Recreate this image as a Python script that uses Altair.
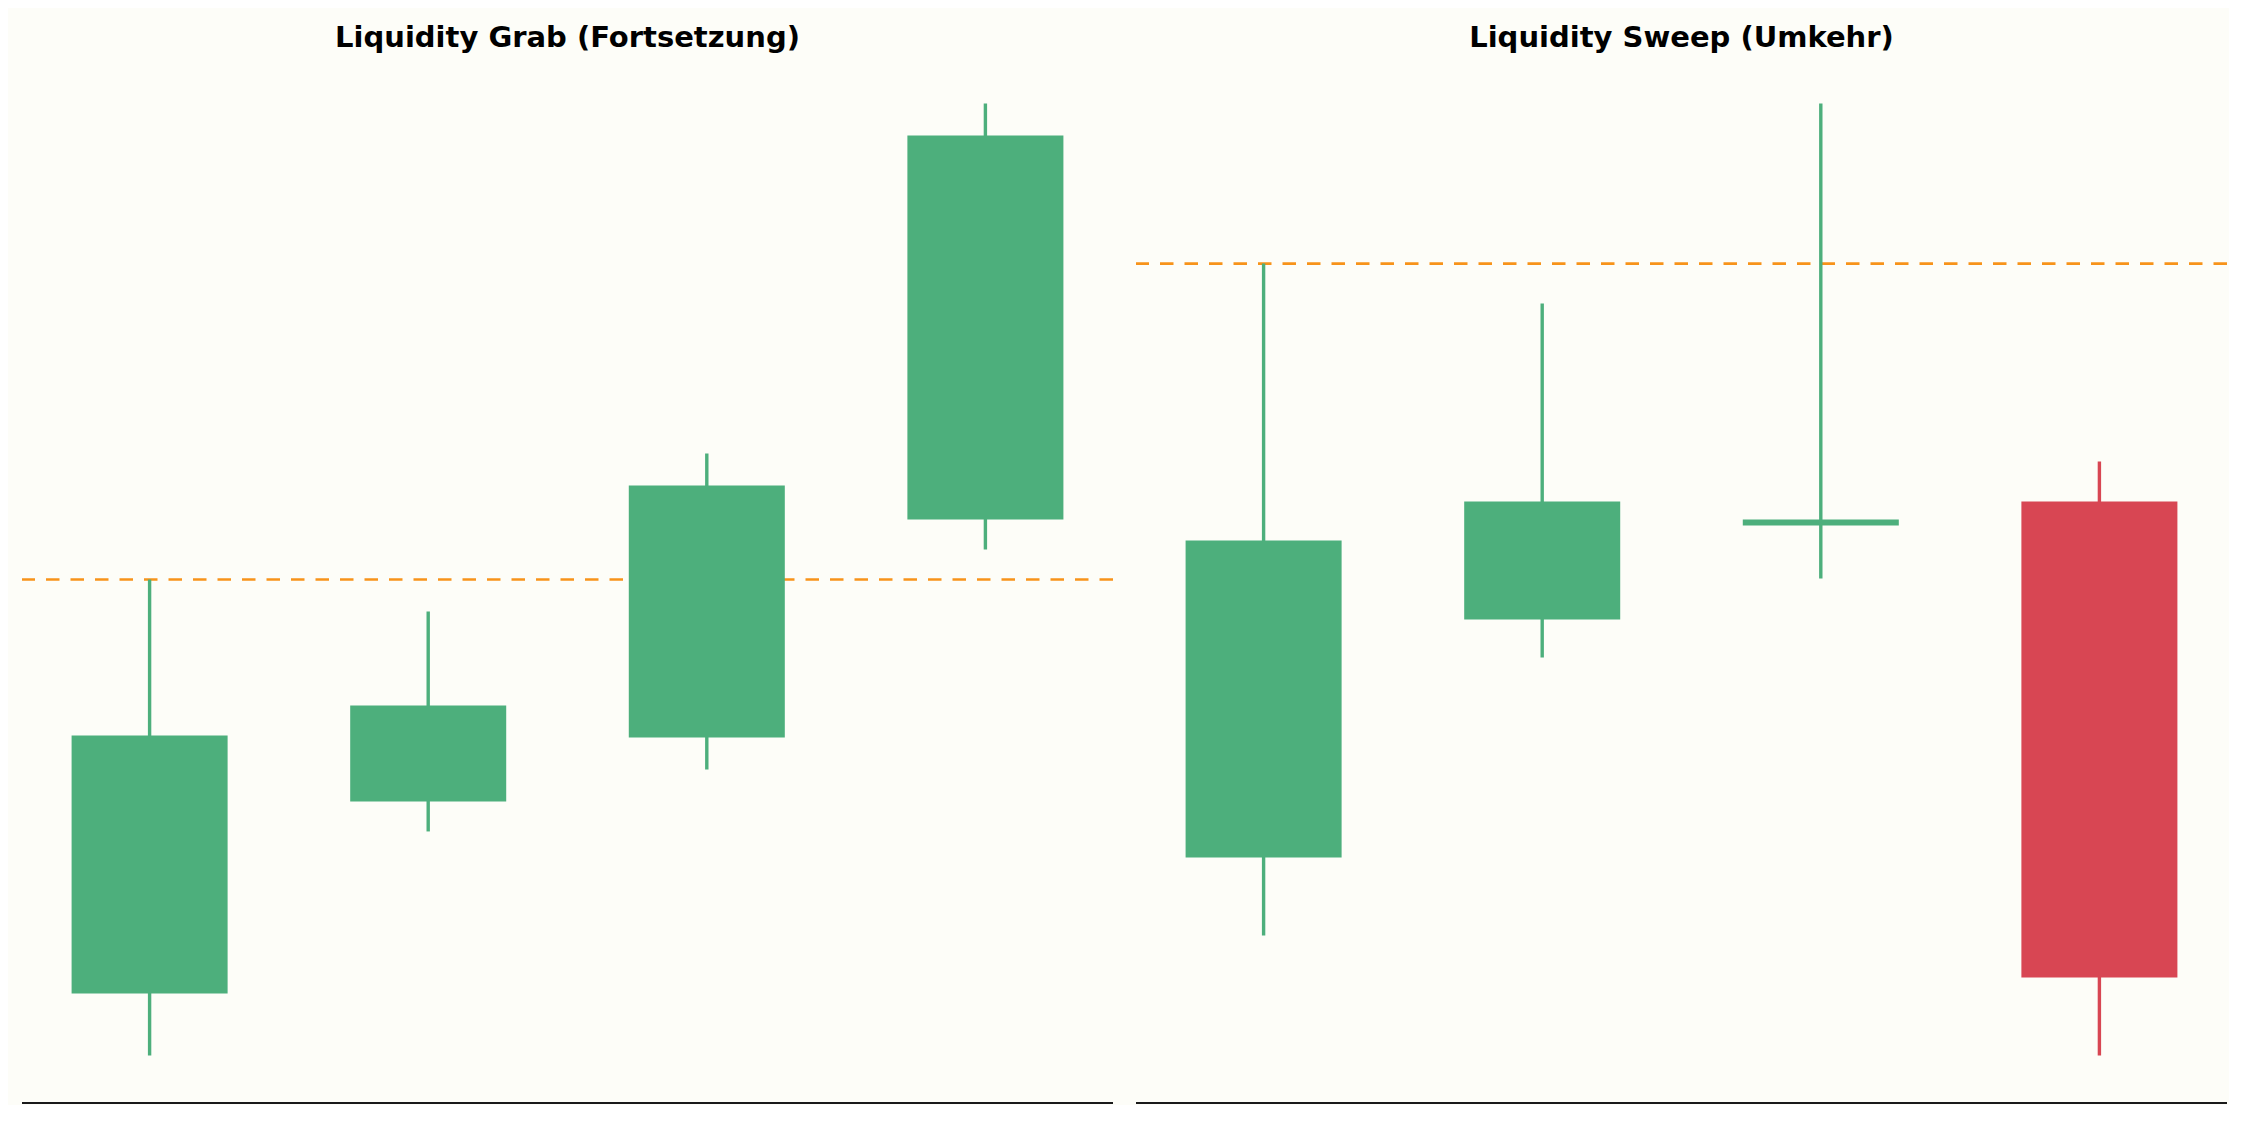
import altair as alt
import pandas as pd
import numpy as np

# ---- data (prices) ----
titles = ["Liquidity Grab (Fortsetzung)", "Liquidity Sweep (Umkehr)"]

left_open = [103.1, 112.7, 115.9, 126.8]
left_close = [116.0, 117.5, 128.5, 146.0]
left_low = [100.0, 111.2, 114.3, 125.3]
left_high = [123.8, 122.2, 130.1, 147.6]
left_level = 123.8

right_open = [109.9, 121.8, 126.5, 127.7]
right_close = [125.75, 127.7, 126.8, 103.9]
right_low = [106.0, 119.9, 123.85, 100.0]
right_high = [139.6, 137.6, 147.6, 129.7]
right_level = 139.6

GREEN = "#4DAF7C"
RED = "#D84653"
ORANGE = "#F7931A"
BG = "#FDFDF8"
SPINE = "#1a1a1a"

X_DOMAIN = [-0.458, 3.458]
Y_DOMAIN = [97.62, 149.98]
HALF = 0.28


def panel(title, o, c, l, h, level):
    df = pd.DataFrame({"i": list(range(len(o))), "open": o, "close": c, "low": l, "high": h})
    df["x0"] = df["i"] - HALF
    df["x1"] = df["i"] + HALF
    df["dir"] = np.where(df["close"] >= df["open"], "up", "down")

    xs = alt.Scale(domain=X_DOMAIN, nice=False, zero=False)
    ys = alt.Scale(domain=Y_DOMAIN, nice=False, zero=False)
    color = alt.Color("dir:N", scale=alt.Scale(domain=["up", "down"], range=[GREEN, RED]), legend=None)

    base = alt.Chart(df)
    wick = base.mark_rule(strokeWidth=3.4).encode(
        x=alt.X("i:Q", scale=xs, axis=None),
        y=alt.Y("low:Q", scale=ys, axis=None),
        y2="high:Q",
        color=color,
    )
    body = base.mark_rect().encode(
        x=alt.X("x0:Q", scale=xs, axis=None),
        x2="x1:Q",
        y=alt.Y("open:Q", scale=ys, axis=None),
        y2="close:Q",
        color=color,
    )
    lvl = alt.Chart(pd.DataFrame({"level": [level]})).mark_rule(
        color=ORANGE, strokeWidth=2.7, strokeDash=[13.5, 11]
    ).encode(y=alt.Y("level:Q", scale=ys, axis=None))

    spine = alt.Chart(pd.DataFrame({"base": [Y_DOMAIN[0]]})).mark_rule(
        color=SPINE, strokeWidth=2.2
    ).encode(y=alt.Y("base:Q", scale=ys, axis=None))

    return alt.layer(lvl, wick, body, spine).properties(
        width=1091,
        height=1047,
        title=alt.TitleParams(title, fontSize=29, font="DejaVu Sans", fontWeight="bold",
                              color="black", baseline="top", offset=3, anchor="middle"),
    )


left = panel(titles[0], left_open, left_close, left_low, left_high, left_level)
right = panel(titles[1], right_open, right_close, right_low, right_high, right_level)

chart = alt.hconcat(left, right, spacing=19).properties(
    padding={"left": 12, "top": 16, "right": 0, "bottom": 0}
).configure(background=BG).configure_view(stroke=None)

chart.save("out.html", embed_options={"renderer": "svg", "actions": False})
